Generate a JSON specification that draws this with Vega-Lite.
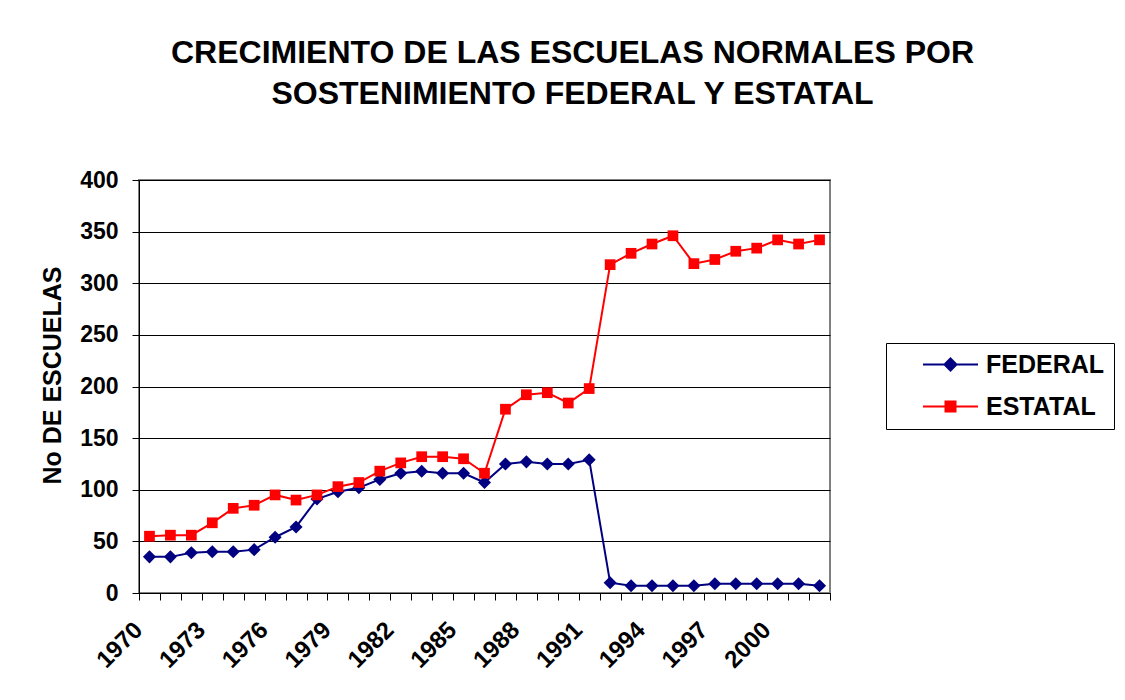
{
  "$schema": "https://vega.github.io/schema/vega-lite/v6.json",
  "autosize": "none",
  "width": 691,
  "height": 413,
  "padding": {"left": 139, "top": 180, "right": 295, "bottom": 107},
  "background": "white",
  "config": {
    "font": "Liberation Sans",
    "view": {"stroke": "#808080", "strokeWidth": 2},
    "axis": {"labelFont": "Liberation Sans", "titleFont": "Liberation Sans", "labelFontWeight": "bold", "titleFontWeight": "bold", "labelColor": "black", "titleColor": "black"}
  },
  "title": {
    "text": ["CRECIMIENTO DE LAS ESCUELAS NORMALES POR", "SOSTENIMIENTO FEDERAL Y ESTATAL"],
    "fontSize": 32,
    "fontWeight": "bold",
    "font": "Liberation Sans",
    "color": "black",
    "anchor": "middle",
    "frame": "group",
    "dx": 88,
    "offset": 58,
    "lineHeight": 41
  },
  "data": {
    "values": [
      {"year": "1970", "serie": "FEDERAL", "value": 35}, {"year": "1970", "serie": "ESTATAL", "value": 55},
      {"year": "1971", "serie": "FEDERAL", "value": 35}, {"year": "1971", "serie": "ESTATAL", "value": 56},
      {"year": "1972", "serie": "FEDERAL", "value": 39}, {"year": "1972", "serie": "ESTATAL", "value": 56},
      {"year": "1973", "serie": "FEDERAL", "value": 40}, {"year": "1973", "serie": "ESTATAL", "value": 68},
      {"year": "1974", "serie": "FEDERAL", "value": 40}, {"year": "1974", "serie": "ESTATAL", "value": 82},
      {"year": "1975", "serie": "FEDERAL", "value": 42}, {"year": "1975", "serie": "ESTATAL", "value": 85},
      {"year": "1976", "serie": "FEDERAL", "value": 54}, {"year": "1976", "serie": "ESTATAL", "value": 95},
      {"year": "1977", "serie": "FEDERAL", "value": 64}, {"year": "1977", "serie": "ESTATAL", "value": 90},
      {"year": "1978", "serie": "FEDERAL", "value": 91}, {"year": "1978", "serie": "ESTATAL", "value": 95},
      {"year": "1979", "serie": "FEDERAL", "value": 98}, {"year": "1979", "serie": "ESTATAL", "value": 103},
      {"year": "1980", "serie": "FEDERAL", "value": 102}, {"year": "1980", "serie": "ESTATAL", "value": 107},
      {"year": "1981", "serie": "FEDERAL", "value": 110}, {"year": "1981", "serie": "ESTATAL", "value": 118},
      {"year": "1982", "serie": "FEDERAL", "value": 116}, {"year": "1982", "serie": "ESTATAL", "value": 126},
      {"year": "1983", "serie": "FEDERAL", "value": 118}, {"year": "1983", "serie": "ESTATAL", "value": 132},
      {"year": "1984", "serie": "FEDERAL", "value": 116}, {"year": "1984", "serie": "ESTATAL", "value": 132},
      {"year": "1985", "serie": "FEDERAL", "value": 116}, {"year": "1985", "serie": "ESTATAL", "value": 130},
      {"year": "1986", "serie": "FEDERAL", "value": 107}, {"year": "1986", "serie": "ESTATAL", "value": 116},
      {"year": "1987", "serie": "FEDERAL", "value": 125}, {"year": "1987", "serie": "ESTATAL", "value": 178},
      {"year": "1988", "serie": "FEDERAL", "value": 127}, {"year": "1988", "serie": "ESTATAL", "value": 192},
      {"year": "1989", "serie": "FEDERAL", "value": 125}, {"year": "1989", "serie": "ESTATAL", "value": 194},
      {"year": "1990", "serie": "FEDERAL", "value": 125}, {"year": "1990", "serie": "ESTATAL", "value": 184},
      {"year": "1991", "serie": "FEDERAL", "value": 129}, {"year": "1991", "serie": "ESTATAL", "value": 198},
      {"year": "1992", "serie": "FEDERAL", "value": 10}, {"year": "1992", "serie": "ESTATAL", "value": 318},
      {"year": "1993", "serie": "FEDERAL", "value": 7}, {"year": "1993", "serie": "ESTATAL", "value": 329},
      {"year": "1994", "serie": "FEDERAL", "value": 7}, {"year": "1994", "serie": "ESTATAL", "value": 338},
      {"year": "1995", "serie": "FEDERAL", "value": 7}, {"year": "1995", "serie": "ESTATAL", "value": 346},
      {"year": "1996", "serie": "FEDERAL", "value": 7}, {"year": "1996", "serie": "ESTATAL", "value": 319},
      {"year": "1997", "serie": "FEDERAL", "value": 9}, {"year": "1997", "serie": "ESTATAL", "value": 323},
      {"year": "1998", "serie": "FEDERAL", "value": 9}, {"year": "1998", "serie": "ESTATAL", "value": 331},
      {"year": "1999", "serie": "FEDERAL", "value": 9}, {"year": "1999", "serie": "ESTATAL", "value": 334},
      {"year": "2000", "serie": "FEDERAL", "value": 9}, {"year": "2000", "serie": "ESTATAL", "value": 342},
      {"year": "2001", "serie": "FEDERAL", "value": 9}, {"year": "2001", "serie": "ESTATAL", "value": 338},
      {"year": "2002", "serie": "FEDERAL", "value": 7}, {"year": "2002", "serie": "ESTATAL", "value": 342}
    ]
  },
  "encoding": {
    "x": {
      "field": "year",
      "type": "ordinal",
      "bandPosition": 0.5,
      "scale": {"type": "band", "paddingInner": 0, "paddingOuter": 0},
      "axis": {
        "title": null,
        "tickBand": "extent",
        "domainColor": "black",
        "tickColor": "black",
        "tickSize": 7,
        "labelAngle": -45,
        "labelAlign": "right",
        "labelBaseline": "middle",
        "labelPadding": 26,
        "labelOffset": -11,
        "labelFontSize": 24,
        "labelOverlap": false,
        "labelExpr": "(toNumber(datum.value) - 1970) % 3 == 0 ? datum.value : ''"
      }
    },
    "y": {
      "field": "value",
      "type": "quantitative",
      "scale": {"domain": [0, 400], "nice": false},
      "axis": {
        "title": "No DE ESCUELAS",
        "titleFontSize": 25,
        "titleAngle": -90,
        "titleBaseline": "alphabetic",
        "titleAlign": "center",
        "titleX": -79,
        "titleY": 195,
        "values": [0, 50, 100, 150, 200, 250, 300, 350, 400],
        "grid": true,
        "gridColor": "black",
        "gridOpacity": 1,
        "gridWidth": 1,
        "domainColor": "black",
        "tickColor": "black",
        "tickSize": 7,
        "labelFontSize": 23,
        "labelPadding": 14
      }
    },
    "color": {
      "field": "serie",
      "type": "nominal",
      "scale": {"domain": ["FEDERAL", "ESTATAL"], "range": ["#000080", "#FF0000"]},
      "legend": {
        "title": null,
        "orient": "none",
        "legendX": 747,
        "legendY": 163,
        "padding": 9,
        "strokeColor": "black",
        "fillColor": "white",
        "symbolSize": 100,
        "symbolOffset": 43,
        "labelOffset": 23,
        "labelFontSize": 25,
        "labelFontWeight": "bold",
        "labelColor": "black",
        "labelFont": "Liberation Sans",
        "labelLimit": 400,
        "rowPadding": 16,
        "labelExpr": "datum.label + '\u00a0\u00a0\u00a0\u00a0\u00a0\u00a0\u00a0\u00a0'",
        "encode": {
          "symbols": {
            "update": {
              "shape": {"signal": "datum.value == 'FEDERAL' ? 'M-5.5,0H5.5M0,-1.2L1.2,0L0,1.2L-1.2,0Z' : 'M-5.5,0H5.5M-1,-1H1V1H-1Z'"},
              "stroke": {"signal": "datum.value == 'FEDERAL' ? '#000080' : '#FF0000'"},
              "fill": {"signal": "datum.value == 'FEDERAL' ? '#000080' : '#FF0000'"},
              "strokeWidth": {"value": 2},
              "opacity": {"value": 1}
            }
          }
        }
      }
    }
  },
  "layer": [
    {
      "mark": {"type": "line", "strokeWidth": 2}
    },
    {
      "transform": [{"filter": "datum.serie == 'FEDERAL'"}],
      "mark": {"type": "point", "shape": "diamond", "filled": true, "opacity": 1, "size": 170}
    },
    {
      "transform": [{"filter": "datum.serie == 'ESTATAL'"}],
      "mark": {"type": "point", "shape": "square", "filled": true, "opacity": 1, "size": 115}
    }
  ]
}
